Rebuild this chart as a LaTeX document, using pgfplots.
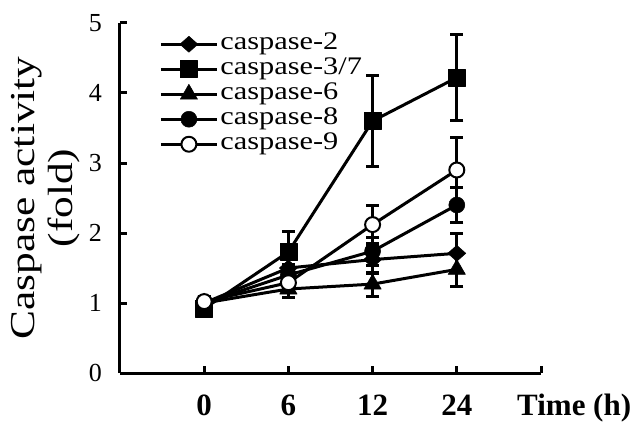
\documentclass[border=0pt]{standalone}
\usepackage{fontspec}
\setmainfont{Liberation Serif}
\usepackage{graphicx}
\usepackage{pgfplots}
\usepackage{pgfplotstable}
\pgfplotsset{compat=1.18}

% time point index, mean fold, error
\pgfplotstableread{
x y e
0 1.00 0.10
1 1.50 0.15
2 1.62 0.20
3 1.71 0.28
}\casptwo
\pgfplotstableread{
x y e
0 0.92 0.10
1 1.73 0.29
2 3.60 0.65
3 4.22 0.62
}\caspthree
\pgfplotstableread{
x y e
0 1.00 0.08
1 1.20 0.12
2 1.27 0.17
3 1.48 0.24
}\caspsix
\pgfplotstableread{
x y e
0 1.00 0.10
1 1.40 0.15
2 1.74 0.20
3 2.40 0.25
}\caspeight
\pgfplotstableread{
x y e
0 1.02 0.08
1 1.29 0.10
2 2.12 0.27
3 2.90 0.47
}\caspnine

\newcommand{\leg}[1]{\scalebox{1.32}[1.1]{#1}}

\begin{document}
\begin{tikzpicture}
\useasboundingbox (-120pt,-61pt) rectangle (522pt,373pt);
\begin{axis}[
    at={(0pt,0pt)}, anchor=south west,
    width=421pt, height=350pt, scale only axis,
    xmin=-1, xmax=4, ymin=0, ymax=5,
    axis lines=left,
    axis line style={-, line width=3pt},
    tick align=inside,
    major tick length=7pt,
    tick style={line width=3pt, black},
    xtick={0,1,2,3,4},
    xticklabels={0,6,12,24,{}},
    ytick={0,1,2,3,4,5},
    /pgf/number format/assume math mode=true,
    xticklabel style={font=\fontsize{31}{31}\selectfont\bfseries, inner sep=0pt, anchor=base, yshift=-42pt},
    yticklabel style={font=\fontsize{26}{26}\selectfont, inner sep=0pt, anchor=east, xshift=-18pt},
    xlabel={Time (h)},
    xlabel style={font=\fontsize{31}{31}\selectfont\bfseries, inner sep=0pt, at={(axis description cs:0.943,0)}, anchor=base west, yshift=-42pt},
    ylabel={\scalebox{1.24}[1]{\fontsize{35}{38}\selectfont\begin{tabular}{@{}c@{}}Caspase activity\\(fold)\end{tabular}}},
    ylabel style={at={(axis description cs:-0.176,0.5)}, anchor=center, inner sep=0pt},
    every axis plot/.append style={line width=3pt, black, line join=round},
    error bars/y dir=both, error bars/y explicit,
    error bars/error bar style={line width=3pt, black},
    error bars/error mark options={rotate=90, mark size=6.5pt, line width=3pt, black},
    legend style={at={(rel axis cs:0.086,0.977)}, anchor=north west, draw=none, fill=none,
        font=\fontsize{23}{26}\selectfont, row sep=3pt, column sep=2pt,
        nodes={inner sep=0pt, text height=16pt, text depth=6pt}},
    legend cell align=left,
    legend image code/.code={\draw[mark repeat=2,mark phase=2,#1] plot coordinates {(0pt,0pt) (28pt,0pt) (56pt,0pt)};},
]
\addplot[mark=diamond*, mark size=8pt, mark options={xscale=1.5, fill=black, line width=0.5pt}]
    table[x=x, y=y, y error=e] {\casptwo};
\addlegendentry{\leg{caspase-2}}
\addplot[mark=square*, mark size=8.5pt, mark options={fill=black, line width=0.5pt}]
    table[x=x, y=y, y error=e] {\caspthree};
\addlegendentry{\leg{caspase-3/7}}
\addplot[mark=triangle*, mark size=10pt, mark options={fill=black, line width=0.5pt}]
    table[x=x, y=y, y error=e] {\caspsix};
\addlegendentry{\leg{caspase-6}}
\addplot[mark=*, mark size=8pt, mark options={fill=black, line width=0.5pt}]
    table[x=x, y=y, y error=e] {\caspeight};
\addlegendentry{\leg{caspase-8}}
\addplot[mark=*, mark size=7.5pt, mark options={fill=white, draw=black, line width=2pt}]
    table[x=x, y=y, y error=e] {\caspnine};
\addlegendentry{\leg{caspase-9}}
\end{axis}
\end{tikzpicture}
\end{document}
